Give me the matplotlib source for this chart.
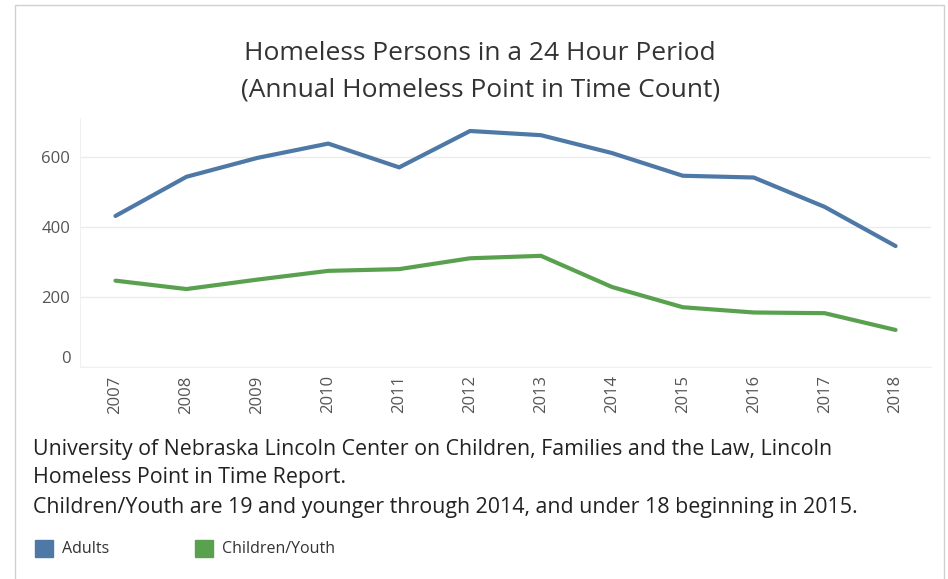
import matplotlib.pyplot as plt
from matplotlib.patches import Rectangle

years = ["2007", "2008", "2009", "2010", "2011", "2012",
         "2013", "2014", "2015", "2016", "2017", "2018"]
adults = [432, 544, 598, 639, 571, 675, 663, 612, 547, 542, 458, 346]
children = [247, 223, 250, 275, 280, 311, 318, 229, 171, 156, 154, 106]

blue = "#4e79a7"
green = "#59a14f"
grey = "#555555"

plt.rcParams["font.family"] = ["Open Sans", "DejaVu Sans"]

fig = plt.figure(figsize=(9.48, 5.79), dpi=100)
ax = fig.add_axes([0.0844, 0.3661, 0.8977, 0.430])

x = range(len(years))
ax.plot(x, adults, color=blue, lw=3, solid_capstyle="round", zorder=3)
ax.plot(x, children, color=green, lw=3, solid_capstyle="round", zorder=3)

ax.set_xlim(-0.5, len(years) - 0.5)
ax.set_ylim(0, 712)
ax.set_yticks([0, 200, 400, 600])
ax.set_xticks(list(x))
ax.set_xticklabels(years, rotation=90)
ax.tick_params(axis="both", length=0, labelsize=12, labelcolor=grey)
ax.tick_params(axis="y", pad=7)
ax.tick_params(axis="x", pad=6)
ax.grid(axis="y", color="#ebebeb", lw=1)
for s in ["top", "right"]:
    ax.spines[s].set_visible(False)
ax.spines["left"].set_color("#f0f0f0")
ax.spines["bottom"].set_color("#f0f0f0")

# nudge the zero label up like the original
for lbl in ax.get_yticklabels():
    if lbl.get_text() == "0":
        lbl.set_verticalalignment("bottom")

fig.text(0.5065, 0.907, "Homeless Persons in a 24 Hour Period",
         ha="center", va="center", fontsize=19, color="#333333")
fig.text(0.5065, 0.844, "(Annual Homeless Point in Time Count)",
         ha="center", va="center", fontsize=19, color="#333333")

notes = [
    "University of Nebraska Lincoln Center on Children, Families and the Law, Lincoln",
    "Homeless Point in Time Report.",
    "Children/Youth are 19 and younger through 2014, and under 18 beginning in 2015.",
]
for ypix, line in zip([450, 477, 507], notes):
    fig.text(33 / 948, 1 - ypix / 579, line, ha="left", va="center",
             fontsize=15.4, color="#222222")

# legend
for xpix, col, name in [(35, blue, "Adults"), (195, green, "Children/Youth")]:
    fig.patches.append(Rectangle((xpix / 948, 1 - 557 / 579), 18 / 948, 17 / 579,
                                 transform=fig.transFigure, color=col))
    fig.text((xpix + 27) / 948, 1 - 549 / 579, name, ha="left", va="center",
             fontsize=11.5, color="#333333")

# outer frame
fig.patches.append(Rectangle((15 / 948, -0.01), 929 / 948, 1 - 5 / 579 + 0.01,
                             transform=fig.transFigure, fill=False,
                             edgecolor="#d0d0d0", lw=1))

fig.savefig("out.png", dpi=100)
